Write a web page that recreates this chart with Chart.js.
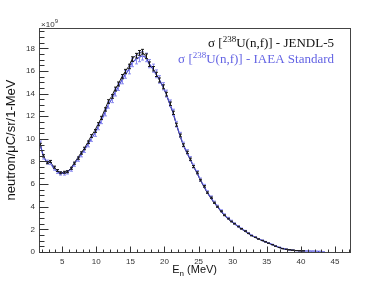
<!DOCTYPE html>
<html><head><meta charset="utf-8">
<script src="https://cdn.jsdelivr.net/npm/chart.js@4"></script>
<style>html,body{margin:0;padding:0;background:#fff}</style>
</head><body>
<canvas id="c" width="389" height="281"></canvas>
<script>
// Neutron energy bin centres (MeV)
const energies = [1.75,2.25,2.75,3.25,3.75,4.25,4.75,5.25,5.75,6.25,6.75,7.25,7.75,8.25,8.75,9.25,9.75,10.25,10.75,11.25,11.75,12.25,12.75,13.25,13.75,14.25,14.75,15.25,15.75,16.25,16.75,17.25,17.75,18.25,18.75,19.25,19.75,20.25,20.75,21.25,21.75,22.25,22.75,23.25,23.75,24.25,24.75,25.25,25.75,26.25,26.75,27.25,27.75,28.25,28.75,29.25,29.75,30.25,30.75,31.25,31.75,32.25,32.75,33.25,33.75,34.25,34.75,35.25,35.75,36.25,36.75,37.25,37.75,38.25,38.75,39.25,39.75,40.25,40.75,41.25,41.75,42.25,42.75,43.25];
// σ[238U(n,f)] - JENDL-5 (x1e9 neutron/µC/sr/1-MeV)
const jendl = [9.5,8.5,7.9,8.0,7.5,7.2,7.0,7.05,7.1,7.4,7.85,8.3,8.75,9.15,9.7,10.25,10.7,11.3,11.85,12.6,13.3,13.75,14.4,14.85,15.5,15.95,16.4,17.05,17.35,17.6,17.7,17.3,16.6,16.2,15.7,15.2,14.6,13.95,13.1,12.3,11.25,10.3,9.45,8.8,8.2,7.55,7.0,6.35,5.8,5.25,4.8,4.35,4.0,3.6,3.25,2.95,2.7,2.5,2.25,2.05,1.85,1.65,1.45,1.3,1.15,1.02,0.9,0.78,0.65,0.52,0.4,0.3,0.24,0.2,0.16,0.13,0.11,0.1];
// σ[238U(n,f)] - IAEA Standard
const iaea = [9.6,8.4,7.95,7.9,7.4,7.1,6.95,6.95,7.05,7.3,7.75,8.2,8.6,9.0,9.5,10.0,10.45,11.05,11.6,12.3,13.0,13.5,14.1,14.6,15.2,15.7,16.1,16.75,17.0,17.2,17.35,17.2,16.65,16.25,15.75,15.25,14.65,14.0,13.15,12.35,11.3,10.35,9.5,8.85,8.25,7.6,7.05,6.4,5.85,5.3,4.85,4.4,4.05,3.65,3.3,3.0,2.75,2.52,2.28,2.07,1.87,1.67,1.48,1.32,1.17,1.04,0.92,0.8,0.67,0.54,0.42,0.32,0.25,0.2,0.16,0.13,0.11,0.1,0.09,0.08,0.07,0.06,0.05,0.04];
const jendlRelErr = 0.012;
const iaeaRelErr = 0.022;
const xTicks = [5,10,15,20,25,30,35,40,45];
const yTicks = [0,2,4,6,8,10,12,14,16,18];

const BLACK = '#1a1a1a';
const BLUE = '#4b4bd0';
const BLUE_ERR = '#8c8cf0';
const BLUE_TXT = '#6464e4';

function drawRich(ctx, parts, xRight, baseline, color) {
  let total = 0;
  parts.forEach(p => { ctx.font = p.font; p.w = ctx.measureText(p.t).width; total += p.w; });
  let x = xRight - total;
  ctx.fillStyle = color;
  ctx.textAlign = 'left';
  ctx.textBaseline = 'alphabetic';
  parts.forEach(p => { ctx.font = p.font; ctx.fillText(p.t, x, baseline + (p.dy || 0)); x += p.w; });
}

const decor = {
  id: 'decor',
  afterDatasetsDraw(chart) {
    const ctx = chart.ctx, xs = chart.scales.x, ys = chart.scales.y;
    const sets = [[iaea, iaeaRelErr, BLUE_ERR], [jendl, jendlRelErr, BLACK]];
    ctx.save();
    ctx.lineWidth = 1;
    sets.forEach(([vals, rel, col]) => {
      ctx.strokeStyle = col;
      vals.forEach((v, i) => {
        const px = Math.round(xs.getPixelForValue(energies[i])) + 0.5;
        const t = ys.getPixelForValue(v * (1 + rel));
        const b = ys.getPixelForValue(v * (1 - rel));
        ctx.beginPath();
        ctx.moveTo(px, t); ctx.lineTo(px, b);
        ctx.moveTo(px - 1.5, t); ctx.lineTo(px + 1.5, t);
        ctx.moveTo(px - 1.5, b); ctx.lineTo(px + 1.5, b);
        ctx.stroke();
      });
    });
    ctx.restore();
  },
  afterDraw(chart) {
    const ctx = chart.ctx, a = chart.chartArea, xs = chart.scales.x, ys = chart.scales.y;
    ctx.save();
    // frame
    ctx.strokeStyle = '#444';
    ctx.lineWidth = 1;
    ctx.strokeRect(Math.round(a.left) + 0.5, Math.round(a.top) + 0.5, Math.round(a.right - a.left), Math.round(a.bottom - a.top));
    // ticks pointing inward
    ctx.strokeStyle = '#333';
    ctx.beginPath();
    const bottom = Math.round(a.bottom) + 0.5, left = Math.round(a.left) + 0.5;
    for (let e = 2; e <= 47; e += 1) {
      const px = Math.round(xs.getPixelForValue(e)) + 0.5;
      const len = (e % 5 === 0) ? 6 : 3;
      ctx.moveTo(px, bottom); ctx.lineTo(px, bottom - len);
    }
    for (let k = 0; k <= 39; k++) {
      const v = k * 0.5;
      const py = Math.round(ys.getPixelForValue(v)) + 0.5;
      const len = (k % 4 === 0) ? 9 : 5;
      ctx.moveTo(left, py); ctx.lineTo(left + len, py);
    }
    ctx.stroke();
    // exponent label
    drawRich(ctx, [
      {t: '×10', font: '8px "Liberation Sans", Arial, sans-serif'},
      {t: '9', font: '6px "Liberation Sans", Arial, sans-serif', dy: -4}
    ], 58, 27, '#333');
    // legend
    const serif = '"Liberation Serif", "Times New Roman", serif';
    drawRich(ctx, [
      {t: 'σ [', font: '13px ' + serif},
      {t: '238', font: '9px ' + serif, dy: -5},
      {t: 'U(n,f)] - JENDL-5', font: '13px ' + serif}
    ], 334, 47, '#111');
    drawRich(ctx, [
      {t: 'σ [', font: '13px ' + serif},
      {t: '238', font: '9px ' + serif, dy: -5},
      {t: 'U(n,f)] - IAEA Standard', font: '13px ' + serif}
    ], 334, 63, BLUE_TXT);
    // x title
    const sans = '"Liberation Sans", Arial, sans-serif';
    ctx.font = '11px ' + sans;
    const w1 = ctx.measureText('E').width, w3 = ctx.measureText(' (MeV)').width;
    ctx.font = '8px ' + sans;
    const w2 = ctx.measureText('n').width;
    let x0 = 217 - (w1 + w2 + w3);
    ctx.fillStyle = '#111';
    ctx.textAlign = 'left';
    ctx.font = '11px ' + sans; ctx.fillText('E', x0, 273);
    ctx.font = '8px ' + sans; ctx.fillText('n', x0 + w1, 276);
    ctx.font = '11px ' + sans; ctx.fillText(' (MeV)', x0 + w1 + w2, 273);
    ctx.restore();
  }
};

new Chart(document.getElementById('c'), {
  type: 'scatter',
  data: {
    datasets: [
      {
        label: 'IAEA Standard',
        data: iaea.map((v, i) => ({x: energies[i], y: v})),
        showLine: true, borderColor: BLUE, borderWidth: 1.2, pointRadius: 0, tension: 0
      },
      {
        label: 'JENDL-5',
        data: jendl.map((v, i) => ({x: energies[i], y: v})),
        showLine: true, borderColor: BLACK, borderWidth: 1, pointRadius: 0, tension: 0
      }
    ]
  },
  options: {
    responsive: false,
    animation: false,
    events: [],
    layout: {padding: {left: 0, right: 39, top: 28, bottom: 0}},
    plugins: {legend: {display: false}, tooltip: {enabled: false}},
    scales: {
      x: {
        type: 'linear', min: 1.6, max: 47.2,
        afterBuildTicks: s => { s.ticks = xTicks.map(v => ({value: v})); },
        afterFit: s => { s.height = 29; },
        grid: {display: false, drawTicks: false},
        border: {display: false},
        ticks: {padding: 5, color: '#333', font: {size: 8, family: '"Liberation Sans", Arial, sans-serif'}, maxRotation: 0, autoSkip: false}
      },
      y: {
        type: 'linear', min: 0, max: 19.8,
        afterBuildTicks: s => { s.ticks = yTicks.map(v => ({value: v})); },
        afterFit: s => { s.width = 39; },
        grid: {display: false, drawTicks: false},
        border: {display: false},
        ticks: {padding: 4, color: '#333', font: {size: 8, family: '"Liberation Sans", Arial, sans-serif'}, autoSkip: false},
        title: {display: true, text: 'neutron/μC/sr/1-MeV', color: '#111', padding: {top: 4, bottom: 0}, font: {size: 13, family: '"Liberation Sans", Arial, sans-serif'}}
      }
    }
  },
  plugins: [decor]
});
</script>
</body></html>
